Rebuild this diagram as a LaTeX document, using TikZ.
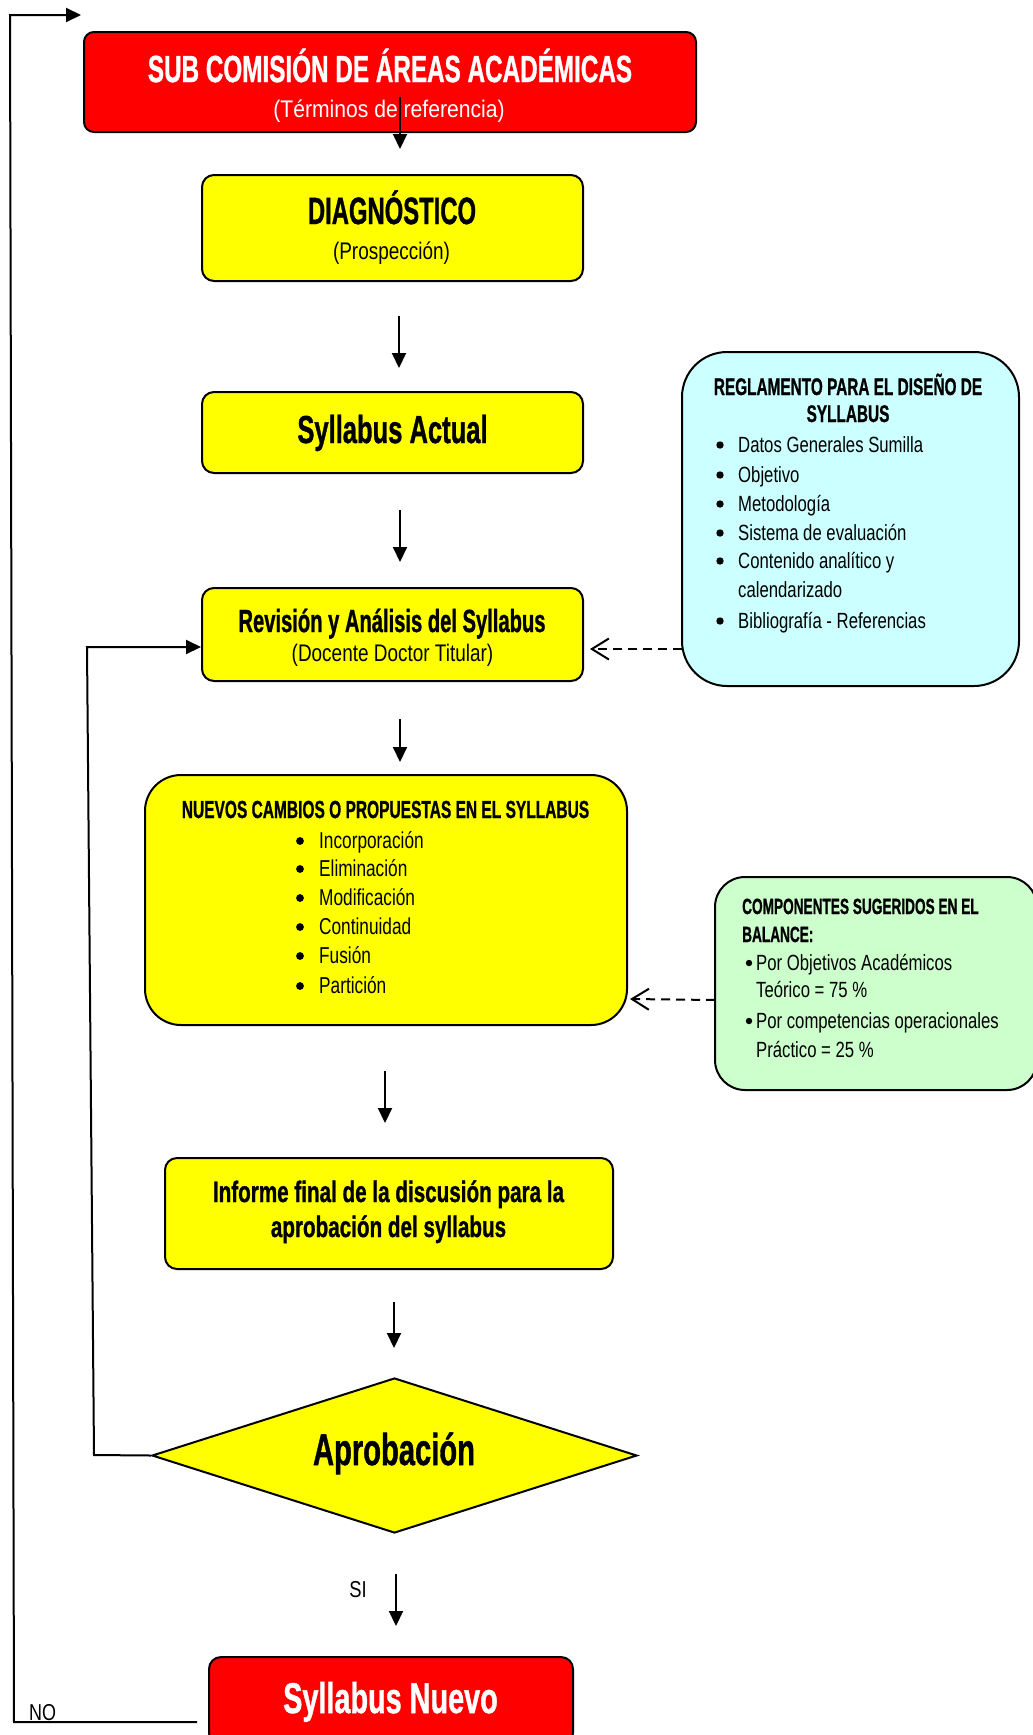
\documentclass[tikz,border=0pt]{standalone}
\usepackage{fontspec}
\setmainfont{Liberation Sans}[BoldFeatures={FakeBold=1.2}]
\usepackage{graphicx}
\usetikzlibrary{arrows.meta,shapes.geometric}
\definecolor{cred}{RGB}{255,0,0}
\definecolor{cyel}{RGB}{255,255,0}
\definecolor{ccyan}{RGB}{204,255,255}
\definecolor{cgreen}{RGB}{204,255,204}
\newcommand\tB[3]{{\fontsize{#1}{#1}\selectfont\bfseries\scalebox{#2}[1]{#3}}}
\newcommand\tR[3]{{\fontsize{#1}{#1}\selectfont\scalebox{#2}[1]{#3}}}
\begin{document}
\begin{tikzpicture}[x=1pt,y=-1pt,
  box/.style={draw, line width=2pt, rounded corners=12pt, inner sep=0pt},
  txt/.style={inner sep=0pt, anchor=base},
  txtl/.style={inner sep=0pt, anchor=base west},
  bul/.style={fill=black},
  arr/.style={line width=2pt, -{Triangle[length=15pt,width=14pt]}},
  dsh/.style={line width=2pt, dash pattern=on 9pt off 6pt, -{Straight Barb[length=17pt,width=21pt,line width=2pt]}}]
\useasboundingbox (0,0) rectangle (1033,1735);
\clip (0,0) rectangle (1033,1735);
\fill[white] (0,0) rectangle (1033,1735);
% boxes
\node[box, fill=cred, rounded corners=10pt, minimum width=612pt, minimum height=100pt] (top) at (390,82) {};
\node[box, fill=cyel, minimum width=381pt, minimum height=106pt] (diag) at (392.5,228) {};
\node[box, fill=cyel, minimum width=381pt, minimum height=81pt] (act) at (392.5,432.5) {};
\node[box, fill=cyel, minimum width=381pt, minimum height=93pt] (rev) at (392.5,634.5) {};
\node[box, fill=cyel, rounded corners=36pt, minimum width=482pt, minimum height=250pt] (nue) at (386,900) {};
\node[box, fill=cyel, minimum width=448pt, minimum height=111pt] (inf) at (389,1213.5) {};
\node[diamond, draw, line width=2pt, fill=cyel, inner sep=0pt, minimum width=485pt, minimum height=155pt] (apr) at (394.5,1455.5) {};
\node[box, fill=cred, minimum width=364pt, minimum height=88pt] (fin) at (391,1701) {};
\node[box, fill=ccyan, rounded corners=45pt, minimum width=337pt, minimum height=334pt] (reg) at (850.5,519) {};
\node[box, fill=cgreen, rounded corners=30pt, minimum width=322pt, minimum height=213pt] (comp) at (876,983.5) {};
% texts
\node[txt, text=white] (t1) at (390,82) {\tB{37.7}{0.644}{SUB COMISIÓN DE ÁREAS ACADÉMICAS}};
\node[txt, text=white] (t2) at (389,117) {\tR{24}{0.88}{(Términos de referencia)}};
\node[txt] (d1) at (392,224) {\tB{38}{0.627}{DIAGNÓSTICO}};
\node[txt] (d2) at (391.5,259) {\tR{24}{0.79}{(Prospección)}};
\node[txt] (s1) at (392.5,443) {\tB{39}{0.655}{Syllabus Actual}};
\node[txt] (r1) at (392,632) {\tB{32}{0.63}{Revisión y Análisis del Syllabus}};
\node[txt] (r2) at (392.5,661) {\tR{24}{0.79}{(Docente Doctor Titular)}};
\node[txt] (n0) at (385.5,818) {\tB{24.7}{0.628}{NUEVOS CAMBIOS O PROPUESTAS EN EL SYLLABUS}};
\node[txtl] (n1) at (319,848) {\tR{23}{0.75}{Incorporación}};
\node[txtl] (n2) at (319,876) {\tR{23}{0.75}{Eliminación}};
\node[txtl] (n3) at (319,905) {\tR{23}{0.75}{Modificación}};
\node[txtl] (n4) at (319,934) {\tR{23}{0.75}{Continuidad}};
\node[txtl] (n5) at (319,963) {\tR{23}{0.75}{Fusión}};
\node[txtl] (n6) at (319,993) {\tR{23}{0.75}{Partición}};
\node[txt] (i1) at (388.5,1202) {\tB{29.5}{0.70}{Informe final de la discusión para la}};
\node[txt] (i2) at (388.5,1237) {\tB{29.5}{0.70}{aprobación del syllabus}};
\node[txt] (ap) at (394,1465) {\tB{44.5}{0.655}{Aprobación}};
\node[txt, text=white] (fn) at (390.5,1713) {\tB{43}{0.67}{Syllabus Nuevo}};
\node[txt] (si) at (358,1597) {\tR{23}{0.8}{SI}};
\node[txtl] (no) at (29,1720) {\tR{23}{0.78}{NO}};
\node[txt] (g0a) at (848,395) {\tB{24}{0.64}{REGLAMENTO PARA EL DISEÑO DE}};
\node[txt] (g0b) at (848,422) {\tB{24}{0.64}{SYLLABUS}};
\node[txtl] (g1) at (738,452) {\tR{22}{0.76}{Datos Generales Sumilla}};
\node[txtl] (g2) at (738,482) {\tR{22}{0.76}{Objetivo}};
\node[txtl] (g3) at (738,511) {\tR{22}{0.76}{Metodología}};
\node[txtl] (g4) at (738,540) {\tR{22}{0.76}{Sistema de evaluación}};
\node[txtl] (g5) at (738,568) {\tR{22}{0.76}{Contenido analítico y}};
\node[txtl] (g5b) at (738,597) {\tR{22}{0.76}{calendarizado}};
\node[txtl] (g6) at (738,628) {\tR{22}{0.76}{Bibliografía - Referencias}};
\node[txtl] (c0a) at (742,914) {\tB{22}{0.62}{COMPONENTES SUGERIDOS EN EL}};
\node[txtl] (c0b) at (742,942) {\tB{22}{0.62}{BALANCE:}};
\node[txtl] (c1) at (756,970) {\tR{22}{0.76}{Por Objetivos Académicos}};
\node[txtl] (c2) at (756,997) {\tR{22}{0.76}{Teórico = 75 \%}};
\node[txtl] (c3) at (756,1028) {\tR{22}{0.76}{Por competencias operacionales}};
\node[txtl] (c4) at (756,1057) {\tR{22}{0.76}{Práctico = 25 \%}};
% bullets
\foreach \yy in {848,876,905,934,963,993} \fill[bul] (300,\yy-7) circle (3.9pt);
\foreach \yy in {452,482,511,540,568,628} \fill[bul] (720,\yy-7) circle (3.7pt);
\foreach \yy in {970,1028} \fill[bul] (749,\yy-7) circle (3.2pt);
% connector coordinates
\coordinate (a1s) at (400,97);   \coordinate (a1e) at (400,149);
\coordinate (a2s) at (399,316);  \coordinate (a2e) at (399,368);
\coordinate (a3s) at (400,510);  \coordinate (a3e) at (400,562);
\coordinate (a4s) at (400,719);  \coordinate (a4e) at (400,762);
\coordinate (a5s) at (385,1071); \coordinate (a5e) at (385,1123);
\coordinate (a6s) at (394,1302); \coordinate (a6e) at (394,1348);
\coordinate (a7s) at (396,1574); \coordinate (a7e) at (396,1626);
\coordinate (noS) at (197,1722); \coordinate (noB) at (14,1722);
\coordinate (noT) at (10,15);    \coordinate (noE) at (81,15);
\coordinate (lpB) at (94,1455);  \coordinate (lpT) at (87,647);
\coordinate (d1s) at (682,649);  \coordinate (d1e) at (590,649);
\coordinate (d2s) at (715,1000); \coordinate (d2e) at (630,999);
% connectors
\draw[arr] (a1s) -- (a1e);
\draw[arr] (a2s) -- (a2e);
\draw[arr] (a3s) -- (a3e);
\draw[arr] (a4s) -- (a4e);
\draw[arr] (a5s) -- (a5e);
\draw[arr] (a6s) -- (a6e);
\draw[arr] (a7s) -- (a7e);
\draw[arr] (noS) -- (noB) -- (noT) -- (noE);
\draw[arr] (apr.west) -- (lpB) -- (lpT) -- (lpT -| rev.west);
\draw[dsh] (d1s) -- (d1e);
\draw[dsh] (d2s) -- (d2e);
\end{tikzpicture}
\end{document}
